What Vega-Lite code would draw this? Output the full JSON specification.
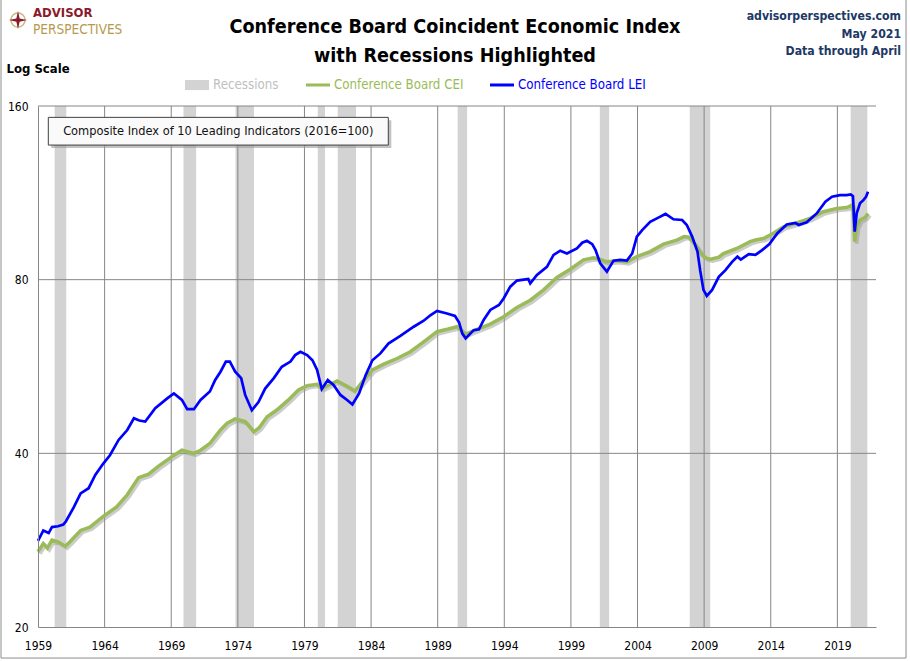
{
  "$schema": "https://vega.github.io/schema/vega-lite/v6.json",
  "width": 838,
  "height": 521,
  "autosize": {"type": "none"},
  "padding": {"left": 38, "top": 106, "right": 34, "bottom": 34},
  "background": "white",
  "config": {
    "view": {"stroke": null},
    "font": "DejaVu Sans Condensed, sans-serif"
  },
  "datasets": {
    "one": [{}],
    "recessions": [
      {"start": 1960.25, "end": 1961.12},
      {"start": 1969.92, "end": 1970.87},
      {"start": 1973.83, "end": 1975.21},
      {"start": 1980.0, "end": 1980.54},
      {"start": 1981.5, "end": 1982.87},
      {"start": 1990.5, "end": 1991.21},
      {"start": 2001.17, "end": 2001.87},
      {"start": 2007.92, "end": 2009.46},
      {"start": 2020.0, "end": 2021.25}
    ],
    "gridx": [
      {"year": 1964}, {"year": 1969}, {"year": 1974}, {"year": 1979},
      {"year": 1984}, {"year": 1989}, {"year": 1994}, {"year": 1999},
      {"year": 2004}, {"year": 2009}, {"year": 2014}, {"year": 2019}
    ],
    "gridy": [{"value": 40}, {"value": 80}, {"value": 160}],
    "lei": [
      {"year": 1959.0, "value": 28.2}, {"year": 1959.4, "value": 29.4},
      {"year": 1959.8, "value": 29.1}, {"year": 1960.05, "value": 29.8},
      {"year": 1960.5, "value": 29.9}, {"year": 1960.9, "value": 30.1},
      {"year": 1961.1, "value": 30.5}, {"year": 1961.7, "value": 32.3},
      {"year": 1962.2, "value": 34.1}, {"year": 1962.8, "value": 34.8},
      {"year": 1963.3, "value": 36.7}, {"year": 1963.9, "value": 38.4},
      {"year": 1964.4, "value": 39.7}, {"year": 1965.05, "value": 42.2},
      {"year": 1965.7, "value": 43.9}, {"year": 1966.2, "value": 46.0},
      {"year": 1966.6, "value": 45.6}, {"year": 1967.05, "value": 45.4},
      {"year": 1967.8, "value": 47.9}, {"year": 1968.7, "value": 49.8},
      {"year": 1969.2, "value": 50.8}, {"year": 1969.8, "value": 49.5},
      {"year": 1970.2, "value": 47.7}, {"year": 1970.7, "value": 47.7},
      {"year": 1971.2, "value": 49.5}, {"year": 1971.9, "value": 51.2},
      {"year": 1972.3, "value": 53.6}, {"year": 1972.7, "value": 55.4},
      {"year": 1973.1, "value": 57.7}, {"year": 1973.4, "value": 57.7},
      {"year": 1973.8, "value": 55.4}, {"year": 1974.25, "value": 54.0},
      {"year": 1974.55, "value": 50.5}, {"year": 1975.05, "value": 47.5},
      {"year": 1975.55, "value": 49.1}, {"year": 1976.05, "value": 51.8},
      {"year": 1976.7, "value": 54.0}, {"year": 1977.3, "value": 56.5},
      {"year": 1977.95, "value": 57.7}, {"year": 1978.3, "value": 59.2},
      {"year": 1978.7, "value": 60.0}, {"year": 1979.2, "value": 59.2},
      {"year": 1979.6, "value": 58.0}, {"year": 1979.95, "value": 55.8},
      {"year": 1980.3, "value": 51.7}, {"year": 1980.75, "value": 53.6},
      {"year": 1981.2, "value": 52.5}, {"year": 1981.7, "value": 50.5},
      {"year": 1982.2, "value": 49.5}, {"year": 1982.6, "value": 48.6},
      {"year": 1983.1, "value": 50.8}, {"year": 1983.6, "value": 54.7},
      {"year": 1984.1, "value": 58.0}, {"year": 1984.7, "value": 59.6},
      {"year": 1985.3, "value": 62.0}, {"year": 1986.2, "value": 63.9},
      {"year": 1987.2, "value": 66.3}, {"year": 1987.95, "value": 67.9},
      {"year": 1988.45, "value": 69.4}, {"year": 1988.95, "value": 70.6},
      {"year": 1989.7, "value": 69.9}, {"year": 1990.3, "value": 69.2},
      {"year": 1990.6, "value": 67.5}, {"year": 1990.85, "value": 64.5},
      {"year": 1991.1, "value": 63.3}, {"year": 1991.7, "value": 65.4},
      {"year": 1992.1, "value": 65.6}, {"year": 1992.45, "value": 68.1},
      {"year": 1992.95, "value": 70.9}, {"year": 1993.6, "value": 72.3},
      {"year": 1993.95, "value": 74.2}, {"year": 1994.45, "value": 77.8},
      {"year": 1994.95, "value": 79.7}, {"year": 1995.45, "value": 80.0},
      {"year": 1995.8, "value": 80.2}, {"year": 1995.95, "value": 78.8},
      {"year": 1996.45, "value": 81.5}, {"year": 1997.2, "value": 84.2},
      {"year": 1997.7, "value": 88.3}, {"year": 1998.2, "value": 89.8},
      {"year": 1998.7, "value": 88.8}, {"year": 1999.45, "value": 90.6},
      {"year": 1999.85, "value": 92.7}, {"year": 2000.2, "value": 93.4},
      {"year": 2000.6, "value": 92.2}, {"year": 2000.85, "value": 90.0},
      {"year": 2001.2, "value": 85.4}, {"year": 2001.7, "value": 82.6},
      {"year": 2002.2, "value": 86.3}, {"year": 2002.7, "value": 86.6},
      {"year": 2003.2, "value": 86.3}, {"year": 2003.6, "value": 88.8},
      {"year": 2003.95, "value": 95.0}, {"year": 2004.35, "value": 97.5},
      {"year": 2004.95, "value": 100.8}, {"year": 2005.6, "value": 102.6},
      {"year": 2006.1, "value": 104.0}, {"year": 2006.7, "value": 101.8},
      {"year": 2007.35, "value": 101.5}, {"year": 2007.7, "value": 99.5},
      {"year": 2008.1, "value": 95.0}, {"year": 2008.5, "value": 89.5},
      {"year": 2008.7, "value": 83.1}, {"year": 2008.95, "value": 76.8},
      {"year": 2009.2, "value": 75.0}, {"year": 2009.6, "value": 76.8},
      {"year": 2010.1, "value": 80.9}, {"year": 2010.6, "value": 83.1},
      {"year": 2011.1, "value": 85.9}, {"year": 2011.5, "value": 87.7},
      {"year": 2011.75, "value": 86.7}, {"year": 2012.35, "value": 88.6},
      {"year": 2012.85, "value": 88.3}, {"year": 2013.35, "value": 90.0},
      {"year": 2013.9, "value": 92.2}, {"year": 2014.5, "value": 96.3},
      {"year": 2015.2, "value": 99.7}, {"year": 2015.85, "value": 100.3},
      {"year": 2016.1, "value": 99.5}, {"year": 2016.7, "value": 100.6},
      {"year": 2017.45, "value": 104.2}, {"year": 2018.1, "value": 109.2},
      {"year": 2018.6, "value": 111.4}, {"year": 2019.2, "value": 112.1},
      {"year": 2019.7, "value": 112.1}, {"year": 2020.0, "value": 112.4},
      {"year": 2020.17, "value": 111.6}, {"year": 2020.3, "value": 96.9},
      {"year": 2020.45, "value": 104.2}, {"year": 2020.7, "value": 108.5},
      {"year": 2020.95, "value": 109.9}, {"year": 2021.15, "value": 111.4},
      {"year": 2021.3, "value": 113.6}
    ],
    "cei": [
      {"year": 1959.0, "value": 27.0}, {"year": 1959.4, "value": 27.9},
      {"year": 1959.7, "value": 27.4}, {"year": 1960.05, "value": 28.3},
      {"year": 1960.5, "value": 28.1}, {"year": 1961.05, "value": 27.6},
      {"year": 1961.4, "value": 28.1}, {"year": 1962.2, "value": 29.4},
      {"year": 1962.9, "value": 29.8}, {"year": 1963.9, "value": 31.1},
      {"year": 1964.9, "value": 32.3}, {"year": 1965.7, "value": 33.9},
      {"year": 1966.55, "value": 36.3}, {"year": 1967.3, "value": 36.8},
      {"year": 1968.05, "value": 38.0}, {"year": 1969.0, "value": 39.4},
      {"year": 1969.8, "value": 40.5}, {"year": 1970.7, "value": 40.0},
      {"year": 1971.2, "value": 40.5}, {"year": 1971.9, "value": 41.6},
      {"year": 1972.7, "value": 43.9}, {"year": 1973.2, "value": 45.1},
      {"year": 1973.8, "value": 45.9}, {"year": 1974.55, "value": 45.4},
      {"year": 1975.2, "value": 43.6}, {"year": 1975.6, "value": 44.3},
      {"year": 1976.2, "value": 46.3}, {"year": 1976.9, "value": 47.5},
      {"year": 1977.8, "value": 49.5}, {"year": 1978.55, "value": 51.5},
      {"year": 1979.2, "value": 52.4}, {"year": 1979.95, "value": 52.7},
      {"year": 1980.3, "value": 51.8}, {"year": 1980.8, "value": 52.5},
      {"year": 1981.45, "value": 53.4}, {"year": 1982.2, "value": 52.3},
      {"year": 1982.8, "value": 51.3}, {"year": 1983.45, "value": 53.6},
      {"year": 1984.1, "value": 55.8}, {"year": 1984.95, "value": 57.1},
      {"year": 1985.95, "value": 58.4}, {"year": 1986.95, "value": 60.0},
      {"year": 1987.95, "value": 62.4}, {"year": 1988.95, "value": 65.0},
      {"year": 1989.8, "value": 65.7}, {"year": 1990.45, "value": 66.3},
      {"year": 1990.9, "value": 65.0}, {"year": 1991.1, "value": 64.4},
      {"year": 1991.95, "value": 65.6}, {"year": 1992.95, "value": 67.0},
      {"year": 1993.95, "value": 69.0}, {"year": 1994.95, "value": 71.6},
      {"year": 1995.95, "value": 73.7}, {"year": 1996.95, "value": 76.8},
      {"year": 1997.95, "value": 80.7}, {"year": 1998.95, "value": 83.4},
      {"year": 1999.95, "value": 86.6}, {"year": 2000.7, "value": 87.3},
      {"year": 2001.2, "value": 86.7}, {"year": 2001.7, "value": 85.9},
      {"year": 2002.45, "value": 86.3}, {"year": 2003.2, "value": 85.9},
      {"year": 2003.95, "value": 87.7}, {"year": 2004.95, "value": 89.5},
      {"year": 2005.95, "value": 92.2}, {"year": 2006.95, "value": 93.7},
      {"year": 2007.5, "value": 95.0}, {"year": 2007.85, "value": 94.8},
      {"year": 2008.35, "value": 91.9}, {"year": 2008.85, "value": 88.3},
      {"year": 2009.2, "value": 87.1}, {"year": 2009.5, "value": 86.8},
      {"year": 2010.1, "value": 87.5}, {"year": 2010.45, "value": 88.8},
      {"year": 2011.45, "value": 90.6}, {"year": 2012.45, "value": 93.1},
      {"year": 2012.85, "value": 93.7}, {"year": 2013.45, "value": 94.3},
      {"year": 2014.2, "value": 96.3}, {"year": 2014.95, "value": 98.8},
      {"year": 2015.95, "value": 100.3}, {"year": 2016.95, "value": 102.2},
      {"year": 2017.95, "value": 104.9}, {"year": 2018.95, "value": 106.3},
      {"year": 2019.7, "value": 106.7}, {"year": 2020.1, "value": 107.7},
      {"year": 2020.2, "value": 105.0}, {"year": 2020.3, "value": 93.1},
      {"year": 2020.45, "value": 98.8}, {"year": 2020.7, "value": 101.5},
      {"year": 2021.1, "value": 102.6}, {"year": 2021.3, "value": 104.2}
    ]
  },
  "layer": [
    {
      "data": {"name": "one"},
      "mark": {"type": "rect", "fill": "white", "fillOpacity": 0, "stroke": "#8c8c8c", "strokeWidth": 1},
      "encoding": {
        "x": {"datum": 1956.223, "type": "quantitative"},
        "x2": {"datum": 2024.153},
        "y": {"datum": 17.67, "type": "quantitative"},
        "y2": {"datum": 246.2}
      }
    },
    {
      "data": {"name": "recessions"},
      "mark": {"type": "rect", "color": "#D3D3D3"},
      "encoding": {
        "x": {"field": "start", "type": "quantitative"},
        "x2": {"field": "end"}
      }
    },
    {
      "data": {"name": "gridx"},
      "mark": {"type": "rule", "color": "#868686", "strokeWidth": 1},
      "encoding": {
        "x": {
          "field": "year",
          "type": "quantitative",
          "scale": {"domain": [1959, 2021.9], "nice": false, "zero": false},
          "axis": {
            "title": null,
            "values": [1959, 1964, 1969, 1974, 1979, 1984, 1989, 1994, 1999, 2004, 2009, 2014, 2019],
            "format": "d",
            "grid": false,
            "ticks": false,
            "labelFlush": false,
            "labelOverlap": false,
            "labelPadding": 13,
            "labelFontSize": 12,
            "labelColor": "#000000",
            "domainColor": "#868686",
            "zindex": 1
          }
        }
      }
    },
    {
      "data": {"name": "gridy"},
      "mark": {"type": "rule", "color": "#868686", "strokeWidth": 1},
      "encoding": {
        "y": {
          "field": "value",
          "type": "quantitative",
          "scale": {"type": "log", "domain": [20, 160], "nice": false},
          "axis": {
            "title": "Log Scale",
            "titleAngle": 0,
            "titleX": -32,
            "titleY": -38,
            "titleAlign": "left",
            "titleBaseline": "middle",
            "titleFontSize": 13,
            "titleFontWeight": "bold",
            "titleColor": "#000000",
            "values": [20, 40, 80, 160],
            "format": "d",
            "grid": false,
            "ticks": false,
            "labelFlush": false,
            "labelPadding": 10,
            "labelFontSize": 12,
            "labelColor": "#000000",
            "domainColor": "#868686",
            "zindex": 1
          }
        }
      }
    },
    {
      "data": {"name": "cei"},
      "mark": {"type": "line", "color": "#9a9a9a", "opacity": 0.5, "strokeWidth": 3.5, "xOffset": 2, "yOffset": 2},
      "encoding": {
        "x": {"field": "year", "type": "quantitative"},
        "y": {"field": "value", "type": "quantitative"}
      }
    },
    {
      "data": {"name": "cei"},
      "mark": {"type": "line", "color": "#9BBB59", "strokeWidth": 3.5},
      "encoding": {
        "x": {"field": "year", "type": "quantitative"},
        "y": {"field": "value", "type": "quantitative"}
      }
    },
    {
      "data": {"name": "lei"},
      "mark": {"type": "line", "color": "#0000FF", "strokeWidth": 2.7},
      "encoding": {
        "x": {"field": "year", "type": "quantitative"},
        "y": {"field": "value", "type": "quantitative"}
      }
    },
    {
      "data": {"name": "one"},
      "mark": {"type": "rect", "fill": "#9a9a9a", "opacity": 0.6, "xOffset": 3, "x2Offset": 3, "yOffset": 3, "y2Offset": 3},
      "encoding": {
        "x": {"datum": 1959.773, "type": "quantitative"},
        "x2": {"datum": 1985.293},
        "y": {"datum": 152.9, "type": "quantitative"},
        "y2": {"datum": 136.9}
      }
    },
    {
      "data": {"name": "one"},
      "mark": {"type": "rect", "fill": "#FAFAFA", "stroke": "#404040", "strokeWidth": 1},
      "encoding": {
        "x": {"datum": 1959.773, "type": "quantitative"},
        "x2": {"datum": 1985.293},
        "y": {"datum": 152.9, "type": "quantitative"},
        "y2": {"datum": 136.9}
      }
    },
    {
      "data": {"name": "one"},
      "mark": {"type": "text", "text": "Composite Index of 10 Leading Indicators (2016=100)", "fontSize": 12.7, "color": "#111111", "align": "center", "baseline": "middle"},
      "encoding": {
        "x": {"datum": 1972.533, "type": "quantitative"},
        "y": {"datum": 144.8, "type": "quantitative"}
      }
    },
    {
      "data": {"name": "one"},
      "mark": {"type": "rect", "color": "#D3D3D3"},
      "encoding": {
        "x": {"datum": 1970.034, "type": "quantitative"},
        "x2": {"datum": 1971.835},
        "y": {"datum": 177.5, "type": "quantitative"},
        "y2": {"datum": 170.5}
      }
    },
    {
      "data": {"name": "one"},
      "mark": {"type": "rule", "color": "#9BBB59", "strokeWidth": 3},
      "encoding": {
        "x": {"datum": 1979.116, "type": "quantitative"},
        "x2": {"datum": 1980.918},
        "y": {"datum": 174.0, "type": "quantitative"}
      }
    },
    {
      "data": {"name": "one"},
      "mark": {"type": "rule", "color": "#0000FF", "strokeWidth": 3},
      "encoding": {
        "x": {"datum": 1992.927, "type": "quantitative"},
        "x2": {"datum": 1994.729},
        "y": {"datum": 174.0, "type": "quantitative"}
      }
    },
    {
      "data": {"name": "one"},
      "mark": {"type": "text", "text": "Recessions", "fontSize": 13.2, "color": "#BFBFBF", "align": "left", "baseline": "middle"},
      "encoding": {
        "x": {"datum": 1972.135, "type": "quantitative"},
        "y": {"datum": 174.0, "type": "quantitative"}
      }
    },
    {
      "data": {"name": "one"},
      "mark": {"type": "text", "text": "Conference Board CEI", "fontSize": 13.2, "color": "#9BBB59", "align": "left", "baseline": "middle"},
      "encoding": {
        "x": {"datum": 1981.218, "type": "quantitative"},
        "y": {"datum": 174.0, "type": "quantitative"}
      }
    },
    {
      "data": {"name": "one"},
      "mark": {"type": "text", "text": "Conference Board LEI", "fontSize": 13.2, "color": "#0000FF", "align": "left", "baseline": "middle"},
      "encoding": {
        "x": {"datum": 1995.029, "type": "quantitative"},
        "y": {"datum": 174.0, "type": "quantitative"}
      }
    },
    {
      "data": {"name": "one"},
      "mark": {"type": "text", "text": "Conference Board Coincident Economic Index", "fontSize": 19.6, "fontWeight": "bold", "color": "#000000", "align": "center", "baseline": "middle"},
      "encoding": {
        "x": {"datum": 1990.30, "type": "quantitative"},
        "y": {"datum": 219.3, "type": "quantitative"}
      }
    },
    {
      "data": {"name": "one"},
      "mark": {"type": "text", "text": "with Recessions Highlighted", "fontSize": 19.6, "fontWeight": "bold", "color": "#000000", "align": "center", "baseline": "middle"},
      "encoding": {
        "x": {"datum": 1990.30, "type": "quantitative"},
        "y": {"datum": 195.3, "type": "quantitative"}
      }
    },
    {
      "data": {"name": "one"},
      "mark": {"type": "text", "text": ["advisorperspectives.com", "May 2021", "Data through April"], "lineHeight": 17.5, "fontSize": 12.2, "fontWeight": "bold", "color": "#203864", "align": "right", "baseline": "middle"},
      "encoding": {
        "x": {"datum": 2023.78, "type": "quantitative"},
        "y": {"datum": 229.1, "type": "quantitative"}
      }
    },
    {
      "data": {"name": "one"},
      "mark": {"type": "point", "filled": false, "stroke": "#B59A4E", "strokeWidth": 1.5, "size": 200},
      "encoding": {
        "x": {"datum": 1957.499, "type": "quantitative"},
        "y": {"datum": 225.5, "type": "quantitative"}
      }
    },
    {
      "data": {"name": "one"},
      "mark": {"type": "point", "filled": true, "color": "#8B1A2B", "opacity": 1, "size": 330, "shape": "M0,-1L0.18,-0.18L1,0L0.18,0.18L0,1L-0.18,0.18L-1,0L-0.18,-0.18Z"},
      "encoding": {
        "x": {"datum": 1957.499, "type": "quantitative"},
        "y": {"datum": 225.5, "type": "quantitative"}
      }
    },
    {
      "data": {"name": "one"},
      "mark": {"type": "text", "text": "ADVISOR", "fontSize": 13, "fontWeight": "bold", "color": "#8B1A2B", "align": "left", "baseline": "middle"},
      "encoding": {
        "x": {"datum": 1958.625, "type": "quantitative"},
        "y": {"datum": 231.9, "type": "quantitative"}
      }
    },
    {
      "data": {"name": "one"},
      "mark": {"type": "text", "text": "PERSPECTIVES", "fontSize": 13.5, "color": "#B59A4E", "align": "left", "baseline": "middle"},
      "encoding": {
        "x": {"datum": 1958.625, "type": "quantitative"},
        "y": {"datum": 217.1, "type": "quantitative"}
      }
    }
  ]
}
